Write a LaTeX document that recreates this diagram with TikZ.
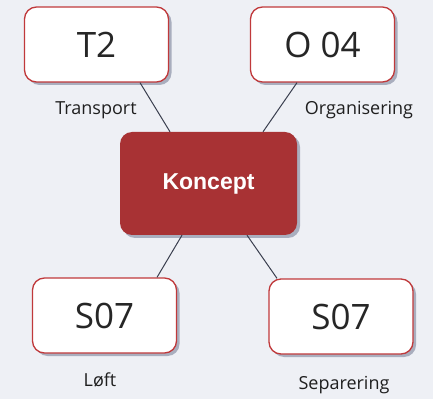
\documentclass[tikz,border=0pt]{standalone}
\usepackage{fontspec}
\setmainfont{Open Sans}
\newfontfamily\boldsans{Liberation Sans}
\usetikzlibrary{shadows,calc}
\definecolor{bgc}{HTML}{EEF0F5}
\definecolor{redline}{HTML}{C0393B}
\definecolor{konceptred}{HTML}{A83234}
\definecolor{shadowc}{HTML}{8C93A8}
\definecolor{linec}{HTML}{3A3F4F}
\tikzset{
  whitebox/.style={draw=redline, line width=1.3pt, fill=white, rounded corners=12pt,
    minimum width=144pt, minimum height=75pt, inner sep=0pt,
    font=\fontsize{35}{37}\selectfont, text=black!85,
    drop shadow={shadow xshift=3pt, shadow yshift=-3pt, fill=shadowc, opacity=0.7}},
  conceptbox/.style={fill=konceptred, rounded corners=12pt,
    minimum width=177pt, minimum height=103pt, inner sep=0pt,
    font=\boldsans\bfseries\fontsize{23}{25}\selectfont, text=white,
    drop shadow={shadow xshift=3pt, shadow yshift=-3pt, fill=shadowc, opacity=0.7}},
  lbl/.style={font=\fontsize{18}{20}\selectfont, text=black!88, inner sep=0pt},
  conn/.style={draw=linec, line width=1pt}
}
\begin{document}
\begin{tikzpicture}[x=1pt,y=1pt]
\fill[bgc] (0,0) rectangle (433,399);
\useasboundingbox (0,0) rectangle (433,399);
\node[whitebox] (t2) at (96.5,354.5) {T2};
\node[whitebox] (o04) at (322.5,354.5) {O 04};
\node[whitebox] (s1) at (104.5,83.5) {S07};
\node[whitebox] (s2) at (341,82.5) {S07};
\node[conceptbox] (k) at (208.5,215.5) {Koncept};
\node[lbl] (lt) at (96,289) {Transport};
\node[lbl] (lo) at (359,289) {Organisering};
\node[lbl] (ll) at (100,19) {Løft};
\node[lbl] (ls) at (344,14) {Separering};
\draw[conn] ($(t2.south)+(43.5,0)$) -- ($(k.north)+(-38.5,0)$);
\draw[conn] ($(o04.south)+(-25.5,0)$) -- ($(k.north)+(54.5,0)$);
\draw[conn] ($(k.south)+(-26.5,0)$) -- ($(s1.north)+(52.5,0)$);
\draw[conn] ($(k.south)+(38.5,0)$) -- ($(s2.north)+(-64,0)$);
\end{tikzpicture}
\end{document}
